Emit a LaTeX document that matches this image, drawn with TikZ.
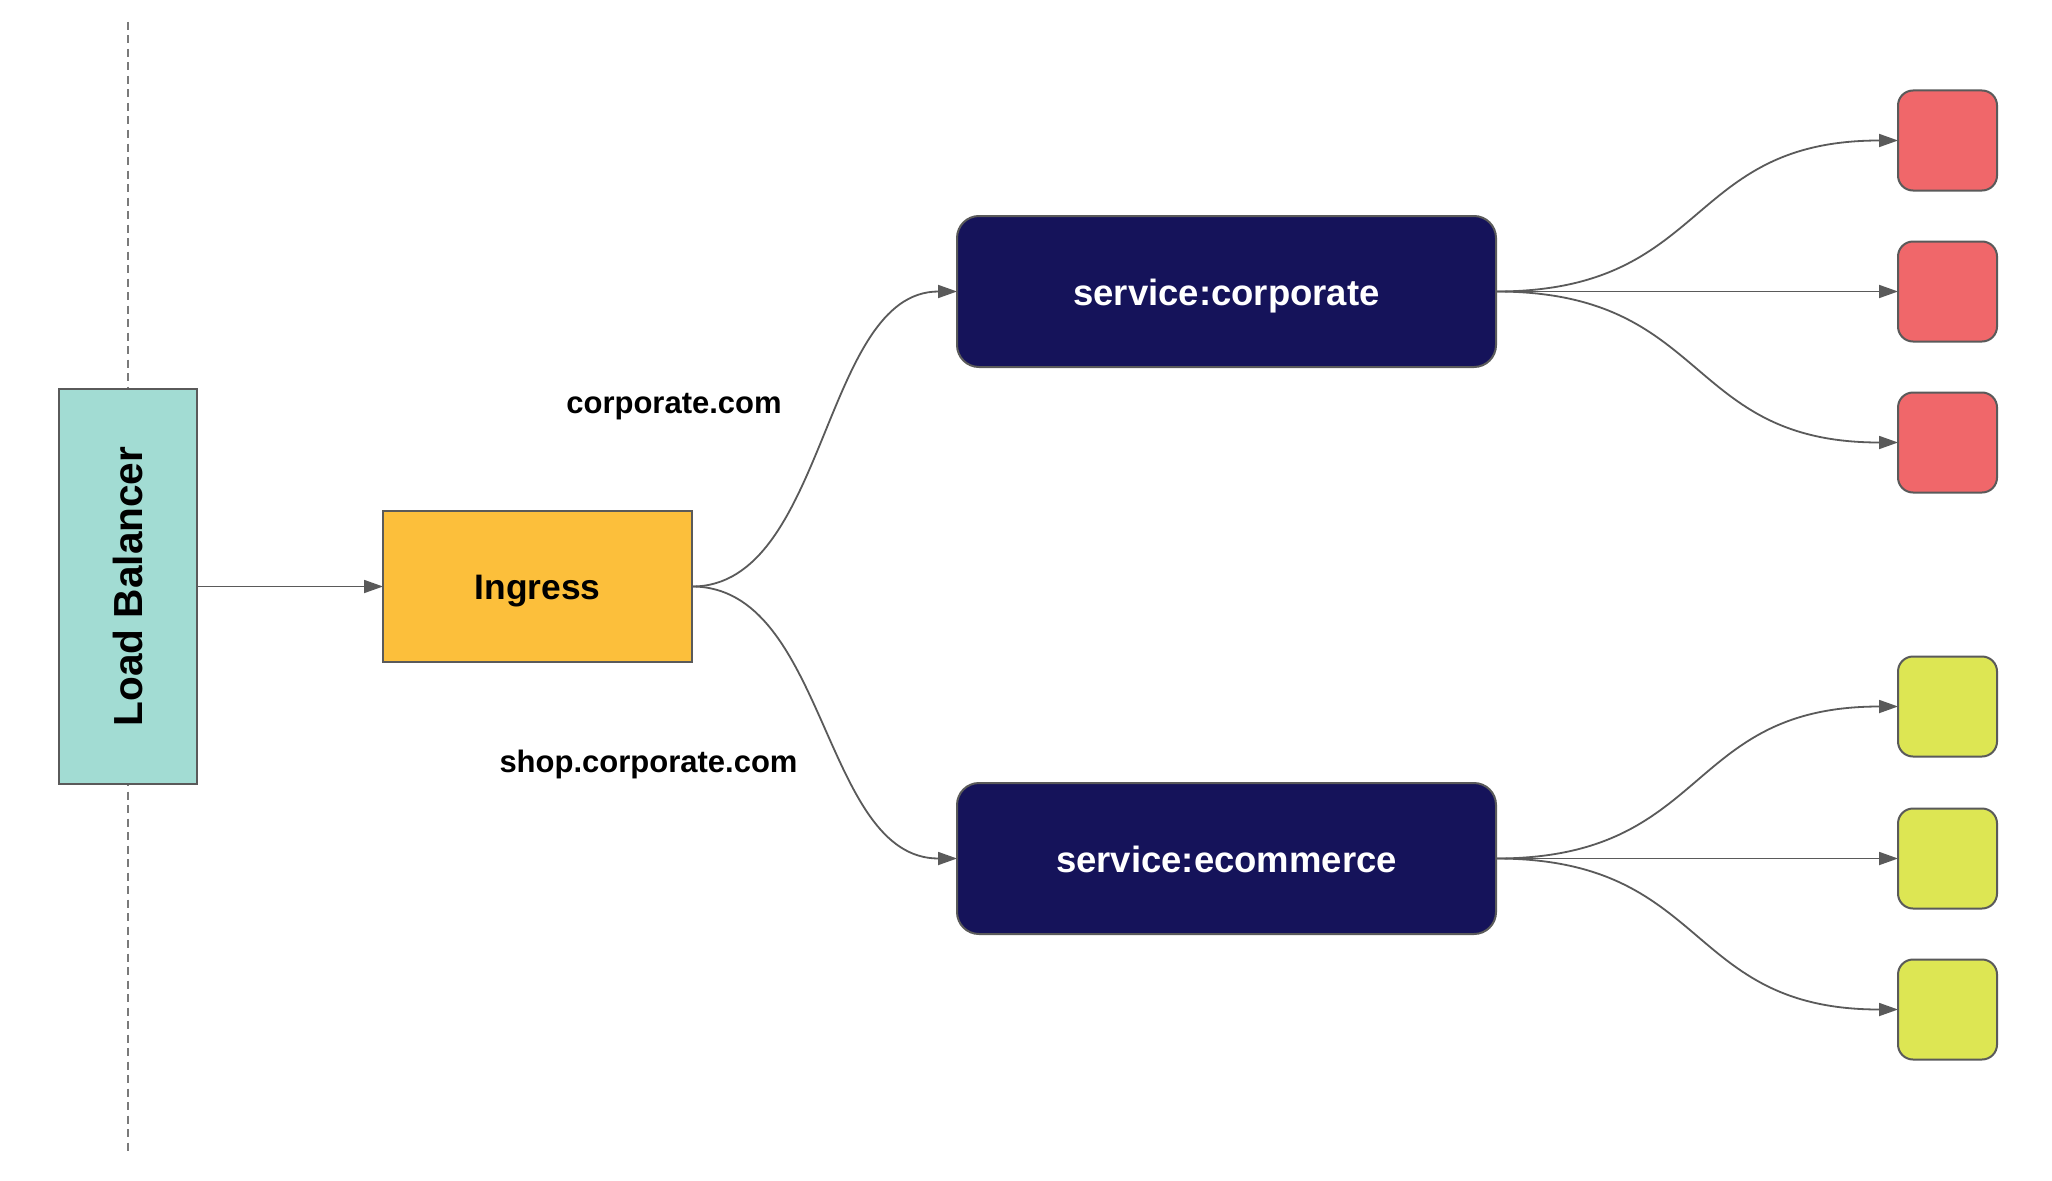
\documentclass[tikz,border=0pt]{standalone}
\usepackage{fontspec}
\setmainfont{Liberation Sans}
\usetikzlibrary{arrows.meta}
\definecolor{lbfill}{HTML}{A2DCD3}
\definecolor{ingfill}{HTML}{FCBF3B}
\definecolor{navy}{HTML}{15135A}
\definecolor{podred}{HTML}{F0676A}
\definecolor{podyel}{HTML}{DDE653}
\definecolor{edgegray}{HTML}{5A5A5A}
\definecolor{dashgray}{HTML}{7A7A7A}
\tikzset{
  box/.style={draw=edgegray, line width=2pt, inner sep=0pt, outer sep=0pt, align=center, font=\bfseries},
  lbbox/.style={box, fill=lbfill, minimum width=138, minimum height=395, font=\bfseries\fontsize{40.6}{48}\selectfont},
  ingbox/.style={box, fill=ingfill, minimum width=309, minimum height=151, text depth=0pt, font=\bfseries\fontsize{35.4}{42}\selectfont},
  svcbox/.style={box, fill=navy, text=white, rounded corners=22pt, minimum width=539, minimum height=151, text depth=0pt, font=\bfseries\fontsize{36.5}{43}\selectfont},
  podred/.style={box, fill=podred, rounded corners=15pt, minimum width=99, minimum height=100},
  podyel/.style={box, fill=podyel, rounded corners=15pt, minimum width=99, minimum height=100},
  hostlabel/.style={anchor=base, inner sep=0pt, font=\bfseries\fontsize{31}{37}\selectfont},
  conn/.style={draw=edgegray, line width=1.8pt, -{Triangle[length=19pt, width=13pt]}},
  dashline/.style={draw=dashgray, line width=2pt, dash pattern=on 8pt off 5.5pt}
}
\begin{document}
\begin{tikzpicture}[x=1pt, y=-1pt]
\useasboundingbox (0,0) rectangle (2052,1180);
\fill[white] (0,0) rectangle (2052,1180);
% dashed boundary
\coordinate (dtop) at (128,22);
\coordinate (dbot) at (128,1151);
\draw[dashline] (dtop) -- (dbot);
% nodes
\node[lbbox] (lb) at (128,586.5) {\rotatebox{90}{Load Balancer}};
\node[ingbox] (ing) at (537.5,586.5) {\raisebox{-2pt}{Ingress}};
\node[svcbox] (corp) at (1226.5,291.5) {\raisebox{-1.5pt}{service:corporate}};
\node[svcbox] (ecom) at (1226.5,858.5) {\raisebox{-1.5pt}{service:ecommerce}};
\node[podred] (r1) at (1947.5,140.5) {};
\node[podred] (r2) at (1947.5,291.5) {};
\node[podred] (r3) at (1947.5,442.5) {};
\node[podyel] (y1) at (1947.5,706.5) {};
\node[podyel] (y2) at (1947.5,858.5) {};
\node[podyel] (y3) at (1947.5,1009.5) {};
% labels
\node[hostlabel] (lcorp) at (674,413) {corporate.com};
\node[hostlabel] (lshop) at (648.5,772) {shop.corporate.com};
% connectors
\draw[conn] (lb.east) -- (ing.west);
\draw[conn] (ing.east) .. controls +(135,0) and +(-135,0) .. (corp.west);
\draw[conn] (ing.east) .. controls +(135,0) and +(-135,0) .. (ecom.west);
\draw[conn] (corp.east) .. controls +(215,0) and +(-215,0) .. (r1.west);
\draw[conn] (corp.east) -- (r2.west);
\draw[conn] (corp.east) .. controls +(215,0) and +(-215,0) .. (r3.west);
\draw[conn] (ecom.east) .. controls +(215,0) and +(-215,0) .. (y1.west);
\draw[conn] (ecom.east) -- (y2.west);
\draw[conn] (ecom.east) .. controls +(215,0) and +(-215,0) .. (y3.west);
\end{tikzpicture}
\end{document}
